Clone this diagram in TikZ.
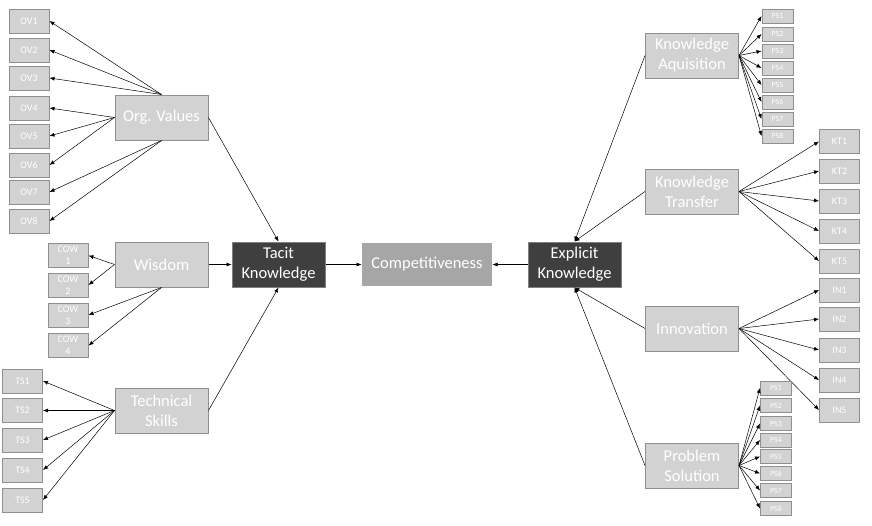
\documentclass[tikz,border=0pt]{standalone}
\usepackage{fontspec}
\setmainfont{Carlito}
\usetikzlibrary{arrows.meta}
\definecolor{boxgray}{HTML}{D2D2D2}
\definecolor{edgegray}{HTML}{8F8F8F}
\definecolor{darkbox}{HTML}{3F3F3F}
\definecolor{midgray}{HTML}{A6A6A6}
\tikzset{
	hub/.style={draw=edgegray, line width=1pt, fill=boxgray, text=white, minimum width=93pt, minimum height=45pt, align=center, inner sep=1pt, font=\fontsize{16.5}{20}\selectfont},
	core/.style={hub, fill=darkbox, draw=gray},
	leaf/.style={draw=edgegray, line width=1pt, fill=boxgray, text=white, minimum width=40pt, minimum height=24pt, align=center, inner sep=0.5pt, font=\fontsize{10}{12}\selectfont},
	smallleaf/.style={leaf, minimum width=31pt, minimum height=14pt, font=\fontsize{8}{8}\selectfont},
	link/.style={-{Latex[length=5pt,width=4pt]}, line width=0.5pt}
}
\begin{document}
\begin{tikzpicture}[x=1pt, y=-1pt]
			\useasboundingbox (0,0) rectangle (872,525);
			%centro
			\node[core] (tacit) at (278.5,264.5) {Tacit\\Knowledge};
			\node[hub, fill=midgray, draw=none, minimum width=130pt, minimum height=43pt] (compet) at (427,264.5) {Competitiveness};
			\node[core] (explicit) at (574.5,264.5) {Explicit\\Knowledge};
			\draw[link] (tacit) -- (compet);
			\draw[link] (explicit) -- (compet);
			
			%lado tacito
			\node[hub] (orgval) at (161.5,117.5) {Org. Values};
			\node[hub] (wisdom) at (161.5,264.5) {Wisdom};
			\node[hub] (techskill) at (161.5,410.5) {Technical\\Skills};
			\draw[link] (orgval.east) -- (tacit.north);
			\draw[link] (wisdom) -- (tacit);
			\draw[link] (techskill.east) -- (tacit.south);
			
			\foreach \i/\y/\from in {1/21/north,2/50/north,3/78/north,4/108/west,5/136/west,6/165/west,7/192/south,8/221/south} {
				\node[leaf] (ov\i) at (29,\y) {OV\i};
				\draw[link] (orgval.\from) -- (ov\i.east);
			}
			\foreach \i/\y/\from in {1/255.5/west,2/285/west,3/315/south,4/345.5/south} {
				\node[leaf] (cow\i) at (68,\y) {COW\\\i};
				\draw[link] (wisdom.\from) -- (cow\i.east);
			}
			\foreach \i/\y in {1/381,2/410.5,3/440,4/470,5/500} {
				\node[leaf] (ts\i) at (22.5,\y) {TS\i};
				\draw[link] (techskill.west) -- (ts\i.east);
			}
			
			%lado explicito
			\node[hub] (kacq) at (692,55.5) {Knowledge\\Aquisition};
			\node[hub] (ktrans) at (692,191.5) {Knowledge\\Transfer};
			\node[hub] (innov) at (692,328.5) {Innovation};
			\node[hub] (probsol) at (692,465.5) {Problem\\Solution};
			\draw[link] (kacq.west) -- (explicit.north);
			\draw[link] (ktrans.west) -- (explicit.north);
			\draw[link] (innov.west) -- (explicit.south);
			\draw[link] (probsol.west) -- (explicit.south);
			
			\foreach \i/\y in {1/16,2/34,3/51,4/68,5/85,6/102,7/119,8/136} {
				\node[smallleaf] (kaps\i) at (777.5,\y) {PS\i};
				\draw[link] (kacq.east) -- (kaps\i.west);
			}
			\foreach \i/\y in {1/141.5,2/171,3/201,4/231,5/261} {
				\node[leaf] (kt\i) at (839.5,\y) {KT\i};
				\draw[link] (ktrans.east) -- (kt\i.west);
			}
			\foreach \i/\y in {1/290,2/319,3/350,4/380,5/410} {
				\node[leaf] (in\i) at (839.5,\y) {IN\i};
				\draw[link] (innov.east) -- (in\i.west);
			}
			\foreach \i/\y in {1/388,2/405.5,3/423.5,4/440,5/456.5,6/473.5,7/490.5,8/508.5} {
				\node[smallleaf] (psps\i) at (776,\y) {PS\i};
				\draw[link] (probsol.east) -- (psps\i.west);
			}
\end{tikzpicture}
\end{document}
